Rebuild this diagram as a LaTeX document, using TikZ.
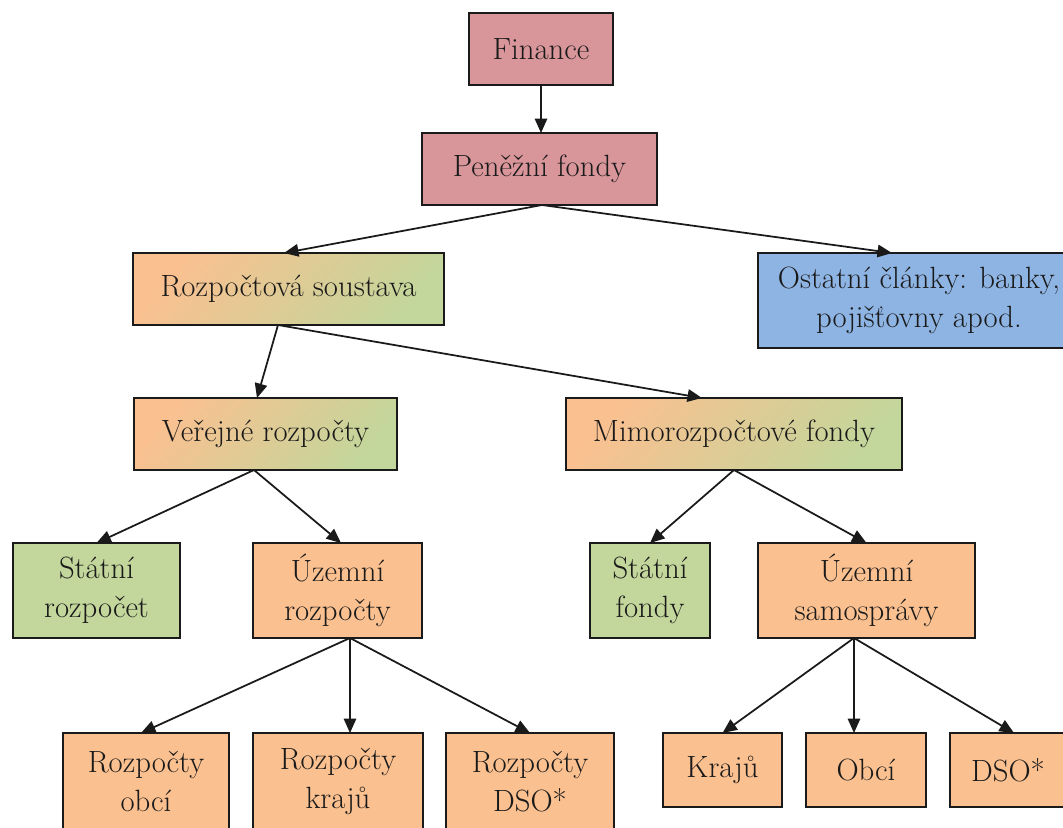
\documentclass[tikz,border=0pt]{standalone}
\usetikzlibrary{arrows.meta,positioning}
\definecolor{figpink}{HTML}{D9969A}
\definecolor{figblue}{HTML}{8EB4E3}
\definecolor{figgreen}{HTML}{C3D69B}
\definecolor{figorange}{HTML}{FAC090}
\definecolor{figink}{HTML}{1A1A1A}

\begin{document}
\begin{tikzpicture}[x=0.02cm, y=-0.02cm,
  font=\fontsize{17.5}{22}\selectfont,
  box/.style={draw=figink, line width=1pt, align=center, inner sep=0pt, outer sep=0pt,
              text=figink, minimum height=1.44cm},
  tallbox/.style={box, minimum height=1.9cm},
  pinkbox/.style={box, fill=figpink},
  bluebox/.style={tallbox, fill=figblue},
  greenbox/.style={tallbox, fill=figgreen},
  orangebox/.style={tallbox, fill=figorange},
  mixbox/.style={box, top color=figorange, bottom color=figgreen, shading angle=50},
  leafbox/.style={box, fill=figorange},
  link/.style={-{Triangle[length=2.9mm, width=2.5mm]}, line width=1pt, draw=figink}]
\useasboundingbox (0,0) rectangle (1063,828);
\clip (0,0) rectangle (1063,828);
% top levels
\node[pinkbox, minimum width=2.88cm] (fin) at (541,49)   {Finance};
\node[pinkbox, minimum width=4.7cm]  (pen) at (539.5,169) {Peněžní fondy};
\node[mixbox, minimum width=6.22cm]  (rs)  at (288.5,289) {Rozpočtová soustava};
\node[bluebox, minimum width=6.44cm] (ost) at (919,300.5) {Ostatní články: banky,\\pojišťovny apod.};
\node[mixbox, minimum width=5.26cm]  (ver) at (265.5,434) {Veřejné rozpočty};
\node[mixbox, minimum width=6.72cm]  (mim) at (734,434)   {Mimorozpočtové fondy};
% third level
\node[greenbox, minimum width=3.34cm]  (sr) at (96.5,590.5)  {Státní\\rozpočet};
\node[orangebox, minimum width=3.38cm] (ur) at (337.5,590.5) {Územní\\rozpočty};
\node[greenbox, minimum width=2.4cm]   (sf) at (650,590.5)   {Státní\\fondy};
\node[orangebox, minimum width=4.34cm] (us) at (866.5,590.5) {Územní\\samosprávy};
% leaves
\node[leafbox, minimum width=3.32cm, minimum height=1.94cm] (ro) at (146,781.5) {Rozpočty\\obcí};
\node[leafbox, minimum width=3.4cm, minimum height=1.94cm]  (rk) at (338,781.5) {Rozpočty\\krajů};
\node[leafbox, minimum width=3.36cm, minimum height=1.94cm] (rd) at (530,781.5) {Rozpočty\\DSO*};
\node[leafbox, minimum width=2.38cm, minimum height=1.48cm] (kr) at (722.5,770) {Krajů};
\node[leafbox, minimum width=2.4cm, minimum height=1.48cm]  (ob) at (866,770)   {Obcí};
\node[leafbox, minimum width=2.32cm, minimum height=1.48cm] (ds) at (1008,770)  {DSO*};
% connectors
\draw[link] (fin.south) -- (fin.south |- pen.north);
\draw[link] ([xshift=0.05cm]pen.south) -- ([xshift=-0.09cm]rs.north);
\draw[link] ([xshift=0.05cm]pen.south) -- ([xshift=-0.54cm]ost.north);
\draw[link] ([xshift=-0.21cm]rs.south) -- ([xshift=-0.17cm]ver.north);
\draw[link] ([xshift=-0.21cm]rs.south) -- ([xshift=-0.64cm]mim.north);
\draw[link] ([xshift=-0.23cm]ver.south) -- (sr.north);
\draw[link] ([xshift=-0.23cm]ver.south) -- ([xshift=0.07cm]ur.north);
\draw[link] (mim.south) -- (sf.north);
\draw[link] (mim.south) -- (us.north);
\draw[link] ([xshift=0.25cm]ur.south) -- ([xshift=-0.1cm]ro.north);
\draw[link] ([xshift=0.25cm]ur.south) -- ([xshift=0.24cm]rk.north);
\draw[link] ([xshift=0.25cm]ur.south) -- (rd.north);
\draw[link] ([xshift=-0.25cm]us.south) -- (kr.north);
\draw[link] ([xshift=-0.25cm]us.south) -- ([xshift=-0.24cm]ob.north);
\draw[link] ([xshift=-0.25cm]us.south) -- ([xshift=0.12cm]ds.north);
\end{tikzpicture}
\end{document}
